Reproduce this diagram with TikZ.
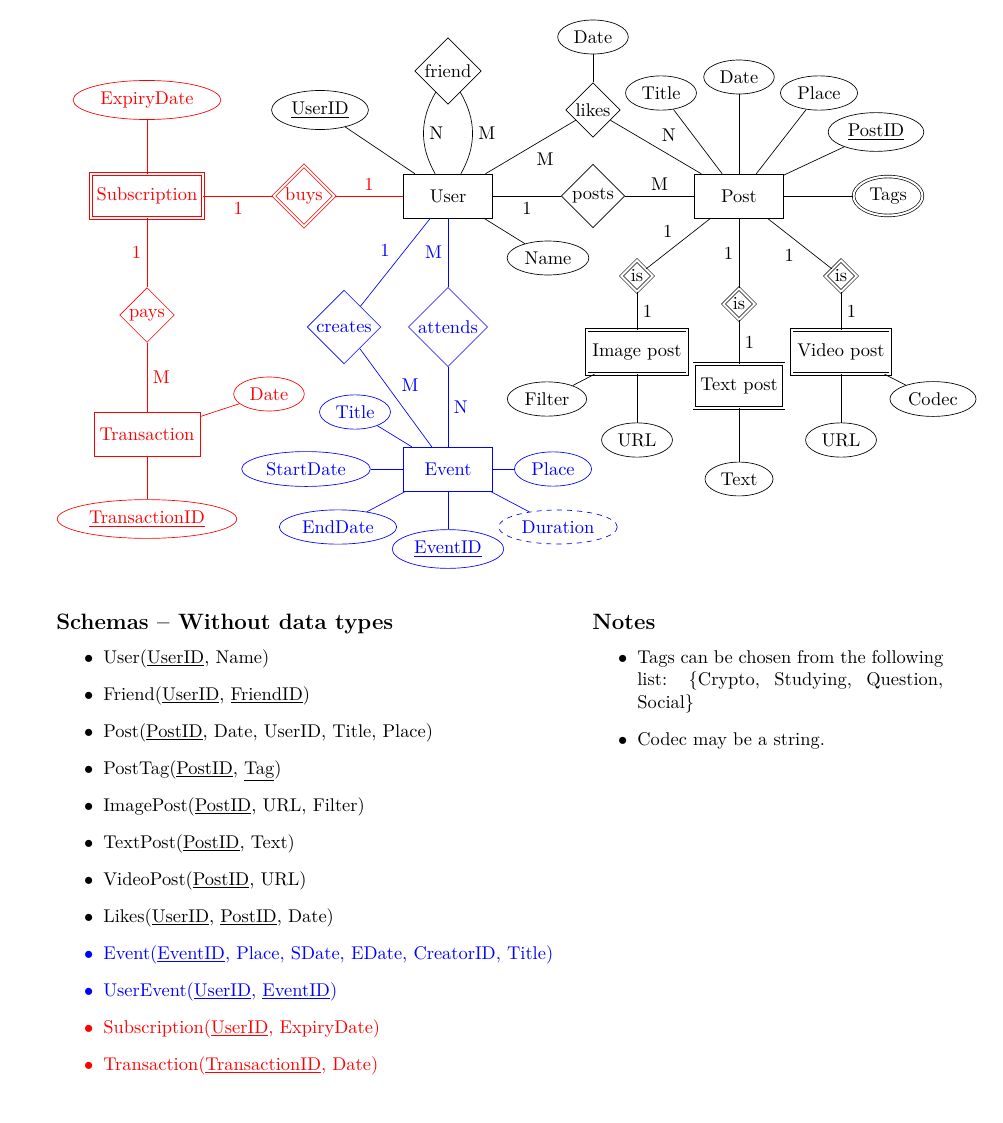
\documentclass[tikz,border=0pt]{standalone}
\usetikzlibrary{shapes.geometric}
\newcommand\ersize{\fontsize{10.95}{13.6}\selectfont}
\newcommand\lstsize{\fontsize{10.95}{13.6}\selectfont}
\newcommand\hdsize{\fontsize{13.2}{15.5}\selectfont\bfseries}
\begin{document}
\begin{tikzpicture}[x=0.5938pt, y=-0.5938pt,
  font=\ersize,
  ent/.style={draw, rectangle, minimum width=53pt, minimum height=26pt},
  went/.style={ent, double, double distance=1.2pt},
  rel/.style={draw, diamond, aspect=1, inner sep=1pt},
  wrel/.style={rel, double, double distance=1.2pt},
  att/.style={draw, ellipse},
  matt/.style={att, double, double distance=1.2pt},
  datt/.style={att, dashed},
  redc/.style={draw=red, text=red},
  bluec/.style={draw=blue, text=blue},
  item/.style={anchor=base west, inner sep=0pt, font=\lstsize},
  head/.style={anchor=base west, inner sep=0pt, font=\hdsize},
]
\useasboundingbox (0,0) rectangle (1002,1123);

% ---------- core (black) ----------
\node[rel] (friend) at (448,71) {friend};
\node[att] (userid) at (320,110) {\underline{UserID}};
\node[ent] (user) at (448,196) {User};
\node[att] (name) at (548,258) {Name};
\node[rel] (posts) at (593,196) {posts};
\node[rel] (likes) at (593,110) {likes};
\node[att] (ldate) at (593,37) {Date};
\node[ent] (post) at (739,196) {Post};
\node[att] (ptitle) at (661,93) {Title};
\node[att] (pdate) at (739,77) {Date};
\node[att] (pplace) at (819,93) {Place};
\node[att] (pid) at (876,132) {\underline{PostID}};
\node[matt] (tags) at (888,196) {Tags};
\node[wrel] (isl) at (637,276) {is};
\node[wrel] (ism) at (739,304) {is};
\node[wrel] (isr) at (841,276) {is};
\node[went] (img) at (637,352) {Image post};
\node[went] (txt) at (739,386) {Text post};
\node[went] (vid) at (841,352) {Video post};
\node[att] (filter) at (547,399) {Filter};
\node[att] (urll) at (637,440) {URL};
\node[att] (text) at (739,479) {Text};
\node[att] (urlr) at (841,440) {URL};
\node[att] (codec) at (933,399) {Codec};

% ---------- red part ----------
\node[wrel, redc] (buys) at (304,196) {buys};
\node[went, redc] (subs) at (147,196) {Subscription};
\node[att, redc] (expiry) at (147,100) {ExpiryDate};
\node[rel, redc] (pays) at (147,315) {pays};
\node[ent, redc] (trans) at (147,434) {Transaction};
\node[att, redc] (tdate) at (269,394) {Date};
\node[att, redc] (tid) at (147,519) {\underline{TransactionID}};

% ---------- blue part ----------
\node[rel, bluec] (creates) at (344,327) {creates};
\node[rel, bluec] (attends) at (448,327) {attends};
\node[ent, bluec] (event) at (448,469) {Event};
\node[att, bluec] (etitle) at (355,412) {Title};
\node[att, bluec] (estart) at (306,469) {StartDate};
\node[att, bluec] (eend) at (338,527) {EndDate};
\node[att, bluec] (eid) at (448,549) {\underline{EventID}};
\node[att, bluec] (eplace) at (553,469) {Place};
\node[datt, bluec] (edur) at (558,527) {Duration};

% ---------- black connectors ----------
\draw (userid) -- (user);
\draw (friend.240) to[bend right=30] node[right] (lfn) {N} (user.120);
\draw (friend.300) to[bend left=30] node[right] (lfm) {M} (user.60);
\draw (user) -- node[below right] (lum) {M} (likes);
\draw (likes) -- node[above right] (lpn) {N} (post);
\draw (likes) -- (ldate);
\draw (user) -- node[below] (lup) {1} (posts);
\draw (posts) -- node[above] (lpp) {M} (post);
\draw (user) -- (name);
\draw (post) -- (ptitle);
\draw (post) -- (pdate);
\draw (post) -- (pplace);
\draw (post) -- (pid);
\draw (post) -- (tags);
\draw (post) -- node[above left] (l1a) {1} (isl);
\draw (isl) -- node[right] (l1b) {1} (img);
\draw (post) -- node[left] (l1c) {1} (ism);
\draw (ism) -- node[right] (l1d) {1} (txt);
\draw (post) -- node[below left] (l1e) {1} (isr);
\draw (isr) -- node[right] (l1f) {1} (vid);
\draw (img) -- (filter);
\draw (img) -- (urll);
\draw (txt) -- (text);
\draw (vid) -- (urlr);
\draw (vid) -- (codec);

% ---------- red connectors ----------
\draw[red] (user) -- node[above] (lr1) {1} (buys);
\draw[red] (buys) -- node[below] (lr2) {1} (subs);
\draw[red] (subs) -- (expiry);
\draw[red] (subs) -- node[left] (lr3) {1} (pays);
\draw[red] (pays) -- node[right] (lr4) {M} (trans);
\draw[red] (trans) -- (tdate);
\draw[red] (trans) -- (tid);

% ---------- blue connectors ----------
\draw[blue] (user) -- node[above left] (lb1) {1} (creates);
\draw[blue] (creates) -- node[above right] (lb2) {M} (event);
\draw[blue] (user) -- node[left] (lb3) {M} (attends);
\draw[blue] (attends) -- node[right] (lb4) {N} (event);
\draw[blue] (event) -- (etitle);
\draw[blue] (event) -- (estart);
\draw[blue] (event) -- (eend);
\draw[blue] (event) -- (eid);
\draw[blue] (event) -- (eplace);
\draw[blue] (event) -- (edur);

% ---------- schemas ----------
\node[head] (hs) at (56,629) {Schemas -- Without data types};
\node[item] (s1) at (103,663) {\llap{$\bullet$\hspace{6pt}}User(\underline{UserID}, Name)};
\node[item] (s2) at (103,700) {\llap{$\bullet$\hspace{6pt}}Friend(\underline{UserID}, \underline{FriendID})};
\node[item] (s3) at (103,737) {\llap{$\bullet$\hspace{6pt}}Post(\underline{PostID}, Date, UserID, Title, Place)};
\node[item] (s4) at (103,774) {\llap{$\bullet$\hspace{6pt}}PostTag(\underline{PostID}, \underline{Tag})};
\node[item] (s5) at (103,811) {\llap{$\bullet$\hspace{6pt}}ImagePost(\underline{PostID}, URL, Filter)};
\node[item] (s6) at (103,848) {\llap{$\bullet$\hspace{6pt}}TextPost(\underline{PostID}, Text)};
\node[item] (s7) at (103,885) {\llap{$\bullet$\hspace{6pt}}VideoPost(\underline{PostID}, URL)};
\node[item] (s8) at (103,922) {\llap{$\bullet$\hspace{6pt}}Likes(\underline{UserID}, \underline{PostID}, Date)};
\node[item, text=blue] (s9) at (103,959) {\llap{$\bullet$\hspace{6pt}}Event(\underline{EventID}, Place, SDate, EDate, CreatorID, Title)};
\node[item, text=blue] (s10) at (103,996) {\llap{$\bullet$\hspace{6pt}}UserEvent(\underline{UserID}, \underline{EventID})};
\node[item, text=red] (s11) at (103,1033) {\llap{$\bullet$\hspace{6pt}}Subscription(\underline{UserID}, ExpiryDate)};
\node[item, text=red] (s12) at (103,1070) {\llap{$\bullet$\hspace{6pt}}Transaction(\underline{TransactionID}, Date)};

% ---------- notes ----------
\node[head] (hn) at (592,629) {Notes};
\node[anchor=base west, inner sep=0pt] (n1) at (637,663) {\parbox[t]{181.7pt}{\fontsize{10.95}{13.4}\selectfont\hyphenpenalty=10000\exhyphenpenalty=10000\tolerance=5000\leavevmode\llap{$\bullet$\hspace{6pt}}Tags can be chosen from the following list: \{Crypto, Studying, Question, Social\}}};
\node[anchor=base west, inner sep=0pt] (n2) at (637,745) {\llap{$\bullet$\hspace{6pt}}Codec may be a string.};
\end{tikzpicture}
\end{document}
